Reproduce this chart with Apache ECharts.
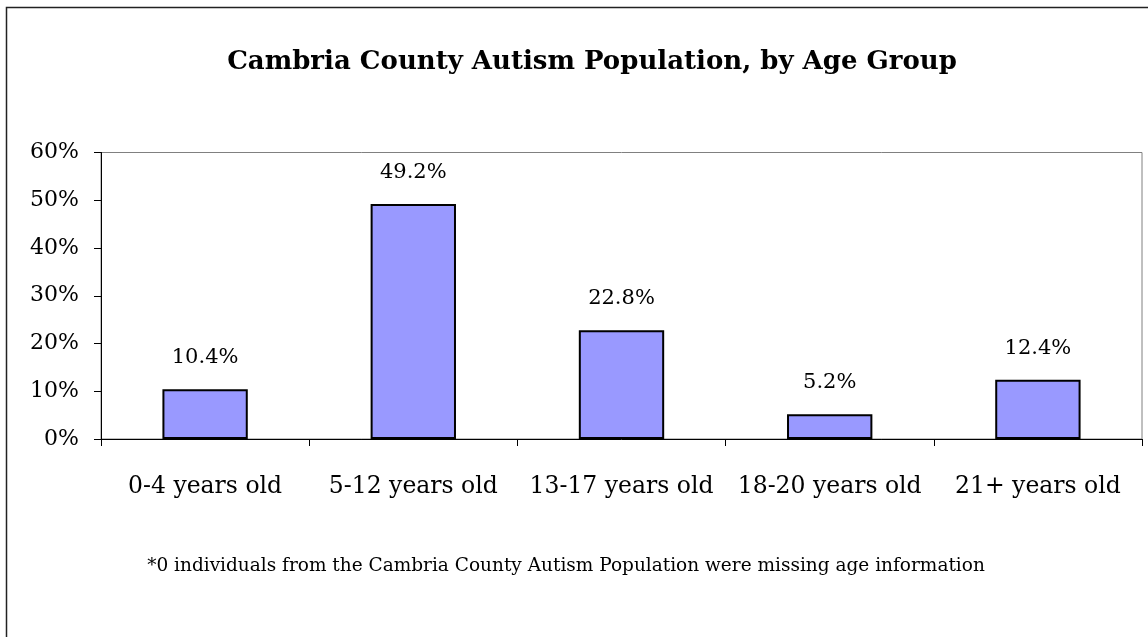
<!DOCTYPE html>
<html>
<head>
<meta charset="utf-8">
<script src="https://cdn.jsdelivr.net/npm/echarts@6/dist/echarts.min.js"></script>
<style>html,body{margin:0;padding:0;background:#fff;}#c{width:1148px;height:637px;}</style>
</head>
<body>
<div id="c"></div>
<script>
const titleText = 'Cambria County Autism Population, by Age Group';
const categories = ['0-4 years old', '5-12 years old', '13-17 years old', '18-20 years old', '21+ years old'];
const values = [10.4, 49.2, 22.8, 5.2, 12.4];
const footnote = '*0 individuals from the Cambria County Autism Population were missing age information';

const FONT = '"DejaVu Serif", serif';
const chart = echarts.init(document.getElementById('c'), null, {renderer: 'canvas'});
chart.setOption({
  animation: false,
  backgroundColor: '#ffffff',
  title: {
    text: titleText, left: 587, top: 44, textAlign: 'center',
    textStyle: {fontFamily: FONT, fontSize: 26, fontWeight: 'bold', color: '#000'}
  },
  graphic: [
    {type: 'rect', shape: {x: 6.5, y: 7.5, width: 1300, height: 800}, style: {fill: 'none', stroke: '#222', lineWidth: 1.5}, silent: true},
    {type: 'text', x: 566, y: 566, style: {text: footnote, fontFamily: FONT, fontSize: 18.5, fill: '#000', align: 'center', verticalAlign: 'middle'}}
  ],
  grid: {left: 101, right: 6, top: 152.5, bottom: 198, show: true, borderColor: '#808080', borderWidth: 1},
  xAxis: {
    type: 'category', data: categories, boundaryGap: true,
    axisLine: {lineStyle: {color: '#000', width: 1}},
    axisTick: {show: true, length: 7, lineStyle: {color: '#000'}},
    axisLabel: {interval: 0, margin: 36, fontFamily: FONT, fontSize: 23.5, color: '#000'}
  },
  yAxis: {
    type: 'value', min: 0, max: 60, interval: 10,
    axisLine: {show: true, lineStyle: {color: '#000', width: 1}},
    axisTick: {show: true, length: 7, lineStyle: {color: '#000'}},
    splitLine: {show: false},
    axisLabel: {formatter: '{value}%', margin: 22, fontFamily: FONT, fontSize: 22, color: '#000'}
  },
  series: [{
    type: 'bar', data: values, barWidth: '41%',
    itemStyle: {color: '#9999FF', borderColor: '#000', borderWidth: 2},
    label: {show: true, position: 'top', distance: 21, formatter: p => p.value.toFixed(1) + '%', fontFamily: FONT, fontSize: 21, color: '#000'}
  }]
});
</script>
</body>
</html>
